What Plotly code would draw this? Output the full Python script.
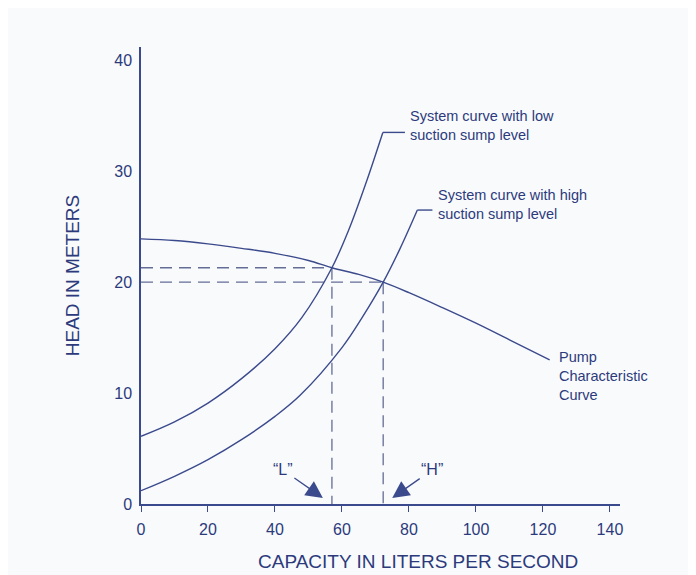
import plotly.graph_objects as go

# ---- data ----
pump_x = [0, 10, 20, 30, 40, 50, 57, 65, 72.3, 80, 90, 100, 110, 122]
pump_y = [23.9, 23.75, 23.45, 23.05, 22.6, 21.95, 21.3, 20.7, 20.0, 19.05, 17.7, 16.3, 14.8, 13.0]

low_x = [0, 10, 20, 30, 40, 48, 57, 62, 67, 72.2]
low_y = [6.1, 7.4, 9.1, 11.3, 14.0, 16.8, 21.3, 24.7, 28.8, 33.5]

high_x = [0, 10, 20, 30, 40, 47.5, 60, 66, 72.3, 77.3, 82.5]
high_y = [1.2, 2.5, 4.0, 5.8, 7.9, 9.8, 14.1, 16.8, 20.0, 23.0, 26.5]

# operating points
op_L = (57, 21.3)
op_H = (72.3, 20.0)

x_ticks = [0, 20, 40, 60, 80, 100, 120, 140]
y_ticks = [0, 10, 20, 30, 40]

LINE = "#3b4a8c"
TEXT = "#2c3a7c"
DASH = "#646d95"
FONT = "Liberation Sans, Arial, sans-serif"

fig = go.Figure()

# dashed guide lines
for (px, py) in (op_L, op_H):
    fig.add_trace(go.Scatter(x=[0, px], y=[py, py], mode="lines",
                             line=dict(color=DASH, width=1.3, dash="12px,7px"),
                             hoverinfo="skip", showlegend=False))
    fig.add_trace(go.Scatter(x=[px, px], y=[py, 0], mode="lines",
                             line=dict(color=DASH, width=1.3, dash="12px,7px"),
                             hoverinfo="skip", showlegend=False))

# curves
for xs, ys in ((pump_x, pump_y), (low_x, low_y), (high_x, high_y)):
    fig.add_trace(go.Scatter(x=xs, y=ys, mode="lines",
                             line=dict(color=LINE, width=1.4, shape="spline", smoothing=1.0),
                             hoverinfo="skip", showlegend=False))

# leader stubs at the tops of the system curves
fig.add_trace(go.Scatter(x=[low_x[-1], 78.8], y=[low_y[-1], low_y[-1]], mode="lines",
                         line=dict(color=LINE, width=1.4), hoverinfo="skip", showlegend=False))
fig.add_trace(go.Scatter(x=[high_x[-1], 87.0], y=[high_y[-1], high_y[-1]], mode="lines",
                         line=dict(color=LINE, width=1.4), hoverinfo="skip", showlegend=False))

ann = []
def txt(x, y, s, yshift):
    ann.append(dict(x=x, y=y, xref="x", yref="y", text=s, showarrow=False,
                    xanchor="left", yanchor="middle", yshift=yshift, align="left",
                    font=dict(family=FONT, size=14.5, color=TEXT)))

txt(79.8, low_y[-1], "System curve with low<br>suction sump level", 7)
txt(88.1, high_y[-1], "System curve with high<br>suction sump level", 6)
txt(124.3, pump_y[-1], "Pump<br>Characteristic<br>Curve", -16)

for (px, lab, ax) in ((op_L[0], "\u201cL\u201d", -40), (op_H[0], "\u201cH\u201d", 40)):
    tipx = px - 2.7 if ax < 0 else px + 2.7
    ann.append(dict(x=tipx, y=0.55, xref="x", yref="y", text=lab, showarrow=True,
                    ax=ax, ay=-28, arrowhead=2, arrowsize=2.6, arrowwidth=1.3,
                    arrowcolor=LINE, standoff=0,
                    font=dict(family=FONT, size=16, color=TEXT)))

# x-axis title (placed to match the reference, slightly right of centre)
ann.append(dict(x=0.578, y=-0.125, xref="paper", yref="paper",
                text="CAPACITY IN LITERS PER SECOND", showarrow=False,
                xanchor="center", yanchor="middle",
                font=dict(family=FONT, size=19, color=TEXT)))

# the page body adds an 8px offset, so the figure is 8px smaller than the window
fig.update_layout(
    width=688, height=567,
    margin=dict(l=133, r=76, t=39, b=71),
    paper_bgcolor="#f9fafc", plot_bgcolor="#f9fafc",
    font=dict(family=FONT, color=TEXT),
    annotations=ann,
    xaxis=dict(range=[0, 143], tickvals=x_ticks, showgrid=False, zeroline=False,
               automargin=False,
               showline=True, linecolor=LINE, linewidth=1.5,
               ticks="outside", ticklen=6, tickcolor=LINE, tickwidth=1.2,
               tickfont=dict(size=16, color=TEXT), ticklabelstandoff=4),
    yaxis=dict(range=[0, 41.2], tickvals=y_ticks, showgrid=False, zeroline=False,
               automargin=False,
               showline=True, linecolor=LINE, linewidth=1.5, ticks="",
               tickfont=dict(size=16, color=TEXT), ticklabelstandoff=4,
               title=dict(text="HEAD IN METERS", font=dict(size=19, color=TEXT),
                          standoff=30)),
)

fig.write_html("out.html")
